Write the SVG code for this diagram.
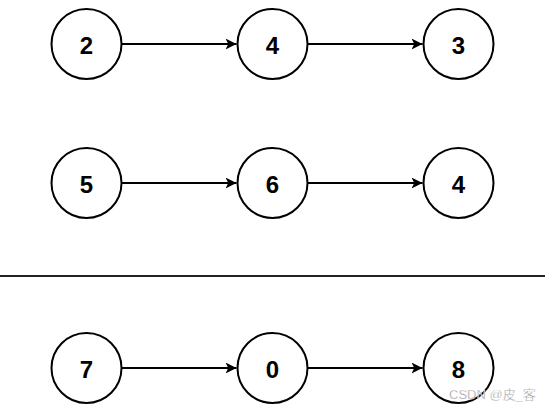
<svg xmlns="http://www.w3.org/2000/svg" width="545" height="410" viewBox="0 0 545 410">
<style>
.node circle{fill:#fff;stroke:#000;stroke-width:2}
.node text{font-family:"Liberation Sans",Arial,sans-serif;font-weight:bold;font-size:24px;text-anchor:middle;dominant-baseline:central;fill:#000}
.edge{stroke:#000;stroke-width:1.8;fill:none;marker-end:url(#arr)}
</style>
<defs>
<marker id="arr" viewBox="0 0 10 10" refX="10" refY="5" markerWidth="11" markerHeight="11" markerUnits="userSpaceOnUse" orient="auto">
<path d="M0,0 L10,5 L0,10 L2.5,5 Z" fill="#000"/>
</marker>
</defs>
<rect width="545" height="410" fill="#fff"/>
<g id="connectors">
<line class="edge" x1="122" y1="44" x2="236.5" y2="44"/>
<line class="edge" x1="308" y1="44" x2="422.5" y2="44"/>
<line class="edge" x1="122" y1="183" x2="236.5" y2="183"/>
<line class="edge" x1="308" y1="183" x2="422.5" y2="183"/>
<line class="edge" x1="122" y1="368" x2="236.5" y2="368"/>
<line class="edge" x1="308" y1="368" x2="422.5" y2="368"/>
</g>
<g id="n2" class="node"><circle cx="86.5" cy="44" r="35"/><text x="86.5" y="45">2</text></g>
<g id="n4a" class="node"><circle cx="272.5" cy="44" r="35"/><text x="272.5" y="45">4</text></g>
<g id="n3" class="node"><circle cx="458.5" cy="44" r="35"/><text x="458.5" y="45">3</text></g>
<g id="n5" class="node"><circle cx="86.5" cy="183" r="35"/><text x="86.5" y="184">5</text></g>
<g id="n6" class="node"><circle cx="272.5" cy="183" r="35"/><text x="272.5" y="184">6</text></g>
<g id="n4b" class="node"><circle cx="458.5" cy="183" r="35"/><text x="458.5" y="184">4</text></g>
<g id="n7" class="node"><circle cx="86.5" cy="368" r="35"/><text x="86.5" y="369">7</text></g>
<g id="n0" class="node"><circle cx="272.5" cy="368" r="35"/><text x="272.5" y="369">0</text></g>
<g id="n8" class="node"><circle cx="458.5" cy="368" r="35"/><text x="458.5" y="369">8</text></g>
<line id="divider" x1="0" y1="276" x2="545" y2="276" stroke="#222" stroke-width="2"/>
<text x="449" y="399" font-family="'Liberation Sans','Noto Sans CJK SC',sans-serif" font-size="13" fill="#8a8a8a" stroke="#fff" stroke-width="0.4">CSDN @皮_客</text>
</svg>
